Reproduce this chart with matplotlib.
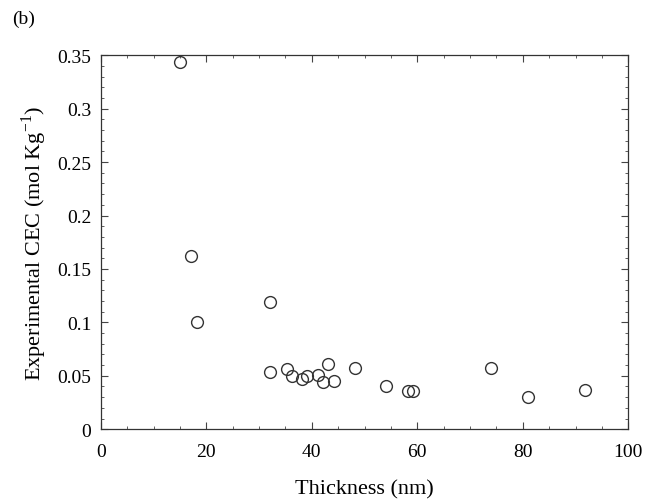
import matplotlib
matplotlib.use('Agg')
import matplotlib.pyplot as plt
from matplotlib.ticker import MultipleLocator, FuncFormatter

plt.rcParams['font.family'] = ['Liberation Serif', 'DejaVu Serif']

thickness = [15.0, 17.1, 18.2, 32.1, 32.1, 35.3, 36.2, 38.1, 39.1, 41.2,
             42.1, 43.1, 44.2, 48.2, 54.0, 58.3, 59.2, 74.0, 81.0, 91.8]
cec = [0.344, 0.162, 0.100, 0.119, 0.054, 0.056, 0.050, 0.047, 0.050, 0.051,
       0.044, 0.061, 0.045, 0.057, 0.040, 0.036, 0.036, 0.057, 0.030, 0.037]

fig = plt.figure(figsize=(6.47, 5.02), dpi=100)
ax = fig.add_axes([0.156, 0.143, 0.815, 0.745])

ax.plot(thickness, cec, 'o', mfc='none', mec='#333333', ms=8.5, mew=1.0)

ax.set_xlim(0, 100)
ax.set_ylim(0, 0.35)
ax.xaxis.set_major_locator(MultipleLocator(20))
ax.xaxis.set_minor_locator(MultipleLocator(5))
ax.yaxis.set_major_locator(MultipleLocator(0.05))
ax.yaxis.set_minor_locator(MultipleLocator(0.01))
ax.yaxis.set_major_formatter(FuncFormatter(lambda v, p: '%g' % round(v, 2)))
ax.tick_params(which='both', direction='in', top=True, right=True,
               labelsize=14, color='#444444')
ax.tick_params(which='major', length=5)
ax.tick_params(which='minor', length=2.5)
ax.tick_params(axis='x', pad=10)
ax.tick_params(axis='y', pad=7)
for s in ax.spines.values():
    s.set_linewidth(0.9)
    s.set_color('#333333')

ax.set_xlabel('Thickness (nm)', fontsize=16, labelpad=14)
ax.set_ylabel('Experimental CEC (mol Kg$^{\\mathregular{-1}}$)', fontsize=16, labelpad=6)
fig.text(0.018, 0.952, '(b)', fontsize=14)

fig.savefig('out.png', dpi=100)
